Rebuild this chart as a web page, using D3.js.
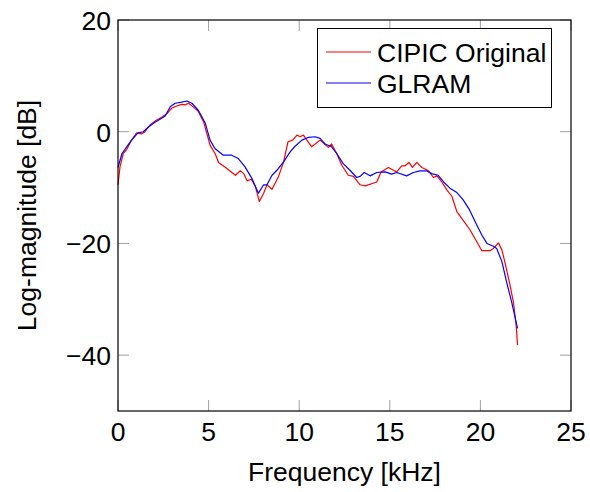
<!DOCTYPE html>
<html>
<head>
<meta charset="utf-8">
<script src="https://cdn.jsdelivr.net/npm/d3@7"></script>
<style>
  body { margin: 0; background: #fff; }
  text { font-family: "Liberation Sans", Arial, sans-serif; fill: #000; }
</style>
</head>
<body>
<div id="chart"></div>
<script>
// values
var cipicFreq = [0, 0.11, 0.29, 0.48, 0.75, 1.03, 1.3, 1.49, 1.77, 2.04, 2.41, 2.69, 2.96, 3.24, 3.52, 3.7, 3.89, 4.17, 4.44, 4.72, 4.9,
  5.08, 5.37, 5.55, 6.01, 6.48, 6.75, 6.94, 7.12, 7.36, 7.58, 7.8, 8.04, 8.22, 8.5, 8.86, 9.14, 9.38, 9.64, 9.88, 10.05,
  10.23, 10.69, 11.15, 11.61, 11.79, 12.07, 12.35, 12.71, 12.99, 13.36, 13.64, 14.28, 14.52, 14.92, 15.38, 15.66, 15.84,
  16.06, 16.25, 16.49, 16.77, 17.14, 17.41, 17.6, 17.87, 18.15, 18.43, 18.7, 19.1, 19.43, 19.8, 20.08, 20.53, 20.72,
  21.0, 21.19, 21.37, 21.65, 21.83, 21.98, 22.05];
var cipicMag = [-9.5, -6.3, -3.9, -3.2, -1.5, -0.2, -0.4, 0, 1.2, 1.9, 2.6, 3.2, 4.2, 4.6, 4.9, 4.8, 5.1, 4.4, 3.6, 1.8, -0.3,
  -2.4, -4.0, -5.5, -6.6, -7.8, -7.0, -7.5, -8.8, -8.5, -9.8, -12.5, -11.0, -9.5, -10.3, -8.0, -5.4, -1.8, -1.5, -0.6, -0.9,
  -0.6, -2.7, -1.5, -2.8, -2.2, -3.9, -6.0, -7.8, -8.0, -9.5, -9.7, -9.0, -7.2, -6.4, -7.2, -6.1, -6.1,
  -5.5, -6.4, -5.5, -6.4, -7.0, -8.2, -7.9, -9.0, -10.4, -11.6, -14.3, -16.1, -17.6, -19.7, -21.3, -21.3, -20.9,
  -19.9, -21.2, -23.6, -27.7, -30.7, -34.9, -38.2];

var glramFreq = [0, 0.22, 0.48, 0.75, 1.1, 1.4, 1.66, 2.0, 2.41, 2.6, 2.89, 3.16, 3.52, 3.8, 4.08, 4.44, 4.82,
  5.08, 5.35, 5.81, 6.27, 6.64, 7.01, 7.38, 7.75, 8.04, 8.22, 8.5, 8.77, 9.14, 9.5, 9.77, 10.15, 10.52, 10.89,
  11.15, 11.43, 11.79, 12.07, 12.43, 12.8, 13.17, 13.36, 13.59, 13.91, 14.28, 14.75, 15.1, 15.38, 15.93, 16.3,
  16.67, 17.03, 17.31, 17.67, 17.97, 18.32, 18.7, 19.05, 19.4, 19.8, 20.08, 20.36, 20.72, 20.9, 21.19, 21.46,
  21.74, 22.05];
var glramMag = [-6.4, -3.9, -2.7, -1.5, -0.2, 0, 0.8, 1.6, 2.4, 2.8, 4.5, 5.1, 5.3, 5.5, 5.1, 3.8, 1.5,
  -1.5, -3.0, -4.2, -4.2, -4.8, -6.3, -8.3, -11.0, -9.5, -9.5, -7.8, -6.9, -5.4, -3.6, -2.6, -1.5, -1.0, -0.9,
  -1.2, -2.2, -2.7, -3.9, -5.7, -6.9, -8.2, -8.0, -7.3, -7.9, -7.3, -7.2, -7.6, -7.3, -7.9, -7.3,
  -7.0, -7.0, -7.5, -7.8, -9.0, -10.1, -10.9, -12.2, -14.0, -16.7, -18.5, -20.0, -20.5, -20.9, -23.3, -27.1,
  -30.7, -35.2];

var xTicks = [0, 5, 10, 15, 20, 25];
var yTicks = [-40, -20, 0, 20];
var seriesNames = ["CIPIC Original", "GLRAM"];
var seriesColors = ["#ff0000", "#0000ff"];

var width = 590, height = 492;
var margin = { top: 20, right: 19, bottom: 81, left: 118 };
var fs = 26.5;

var svg = d3.select("#chart").append("svg")
  .attr("width", width).attr("height", height);

var x = d3.scaleLinear().domain([0, 25]).range([margin.left, width - margin.right]);
var y = d3.scaleLinear().domain([-50, 20]).range([height - margin.bottom, margin.top]);

var series = [
  d3.zip(cipicFreq, cipicMag),
  d3.zip(glramFreq, glramMag)
];

// ticks (inward, grey) on all four sides
var tickLen = 11;
var tickColor = "#a0a0a0";
var g = svg.append("g");
xTicks.forEach(function (t) {
  g.append("line").attr("x1", x(t)).attr("x2", x(t))
    .attr("y1", y(-50)).attr("y2", y(-50) - tickLen).attr("stroke", tickColor);
  g.append("line").attr("x1", x(t)).attr("x2", x(t))
    .attr("y1", y(20)).attr("y2", y(20) + tickLen).attr("stroke", tickColor);
});
yTicks.forEach(function (t) {
  g.append("line").attr("x1", x(0)).attr("x2", x(0) + tickLen)
    .attr("y1", y(t)).attr("y2", y(t)).attr("stroke", tickColor);
  g.append("line").attr("x1", x(25)).attr("x2", x(25) - tickLen)
    .attr("y1", y(t)).attr("y2", y(t)).attr("stroke", tickColor);
});

// curves
var line = d3.line().x(function (d) { return x(d[0]); }).y(function (d) { return y(d[1]); });
series.forEach(function (s, i) {
  svg.append("path").attr("d", line(s))
    .attr("fill", "none").attr("stroke", seriesColors[i])
    .attr("stroke-width", 1.2).attr("stroke-linejoin", "round");
});

// frame
svg.append("rect")
  .attr("x", x(0)).attr("y", y(20))
  .attr("width", x(25) - x(0)).attr("height", y(-50) - y(20))
  .attr("fill", "none").attr("stroke", "#000").attr("stroke-width", 1.2);

// tick labels
var fmt = d3.format("d");
xTicks.forEach(function (t) {
  svg.append("text").attr("x", x(t)).attr("y", y(-50) + 30)
    .attr("text-anchor", "middle").style("font-size", fs + "px").text(fmt(t));
});
yTicks.forEach(function (t) {
  svg.append("text").attr("x", x(0) - 7).attr("y", y(t) + 10)
    .attr("text-anchor", "end").style("font-size", fs + "px").text(fmt(t));
});

// axis labels
svg.append("text").attr("x", (x(0) + x(25)) / 2).attr("y", 481)
  .attr("text-anchor", "middle").style("font-size", fs + "px").text("Frequency [kHz]");
svg.append("text")
  .attr("transform", "translate(36," + ((y(20) + y(-50)) / 2) + ") rotate(-90)")
  .attr("text-anchor", "middle").style("font-size", fs + "px").text("Log-magnitude [dB]");

// legend
var leg = svg.append("g");
leg.append("rect").attr("x", 317.5).attr("y", 28.5).attr("width", 234).attr("height", 79)
  .attr("fill", "#fff").attr("stroke", "#000").attr("stroke-width", 1);
seriesNames.forEach(function (name, i) {
  var cy = 52 + i * 31;
  leg.append("line").attr("x1", 326).attr("x2", 371).attr("y1", cy).attr("y2", cy)
    .attr("stroke", seriesColors[i]).attr("stroke-width", 1.2);
  leg.append("text").attr("x", 377).attr("y", cy + 10)
    .style("font-size", fs + "px").text(name);
});
</script>
</body>
</html>
